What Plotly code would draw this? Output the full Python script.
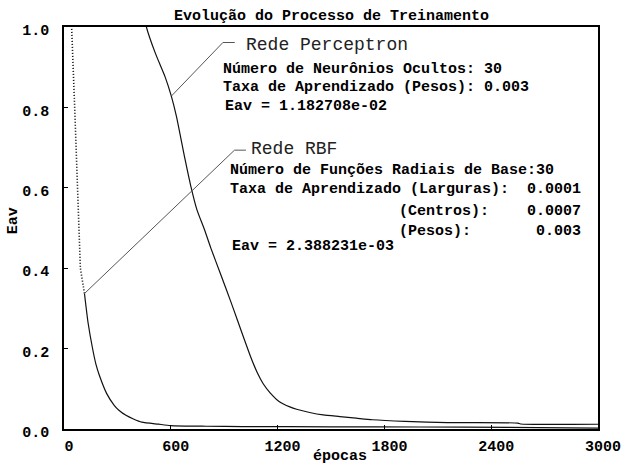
import numpy as np
import plotly.graph_objects as go

# Curva de treinamento da rede Perceptron (épocas, Eav)
perceptron_epocas = [450, 463, 513, 568, 603, 631, 679, 712, 747, 790, 825, 880, 936,
                     975, 1012, 1050, 1086, 1120, 1158, 1210, 1269, 1307, 1380, 1456,
                     1550, 1641, 1732, 1917, 2155, 2550, 2565, 3000]
perceptron_eav = [1.03, 1.0, 0.935, 0.876, 0.828, 0.779, 0.673, 0.605, 0.545, 0.495,
                  0.45, 0.385, 0.318, 0.27, 0.224, 0.178, 0.14, 0.112, 0.09, 0.068,
                  0.055, 0.049, 0.041, 0.035, 0.031, 0.027, 0.023, 0.019, 0.016,
                  0.0147, 0.0125, 0.01182708]

# Curva de treinamento da rede RBF: trecho inicial (pontilhado) e restante
rbf_inicio_epocas = [38, 43, 60, 78, 92, 115]
rbf_inicio_eav = [1.04, 1.0, 0.8, 0.6, 0.4, 0.337]
rbf_epocas = [115, 135, 161, 180, 199, 240, 282, 310, 348, 390, 437, 531, 600, 800,
              1000, 1500, 2000, 2500, 3000]
rbf_eav = [0.337, 0.265, 0.199, 0.16, 0.133, 0.088, 0.059, 0.046, 0.034, 0.025, 0.017,
           0.012, 0.0085, 0.0068, 0.006, 0.0055, 0.005, 0.0042, 0.002388231]

x_ticks = [0, 600, 1200, 1800, 2400, 3000]
y_ticks = [0.0, 0.2, 0.4, 0.6, 0.8, 1.0]

# Pontos das curvas indicados pelas linhas de chamada
perc_ref_epoca = 603
rbf_ref_epoca = 115

W, H = 633, 468
ML, MR, MT, MB = 64, 28, 27, 34
PW, PH = W - ML - MR, H - MT - MB

def px_x(p):
    return (p - ML) / PW

def px_y(p):
    return (H - MB - p) / PH

def ep_from_px(p):
    return px_x(p) * 3000

def val_from_px(p):
    return px_y(p)

MONO = "Liberation Mono"
bold = dict(family=MONO, size=15, color="black", weight="bold")
fina = dict(family=MONO, size=18, color="#222222")
cor_curva = "#111111"
cor_chamada = "#555555"

fig = go.Figure()

fig.add_trace(go.Scatter(x=rbf_inicio_epocas, y=rbf_inicio_eav, mode="lines",
                         line=dict(color="black", width=1.6, dash="1px,2px"),
                         hoverinfo="skip"))
fig.add_trace(go.Scatter(x=rbf_epocas, y=rbf_eav, mode="lines",
                         line=dict(color=cor_curva, width=1.2, shape="spline",
                                   smoothing=0.6),
                         hoverinfo="skip"))
fig.add_trace(go.Scatter(x=perceptron_epocas, y=perceptron_eav, mode="lines",
                         line=dict(color=cor_curva, width=1.2, shape="spline",
                                   smoothing=0.6),
                         hoverinfo="skip"))

# Linhas de chamada
perc_ref_val = float(np.interp(perc_ref_epoca, perceptron_epocas, perceptron_eav))
rbf_ref_val = float(np.interp(rbf_ref_epoca, rbf_epocas, rbf_eav))
fig.add_trace(go.Scatter(
    x=[perc_ref_epoca, ep_from_px(225), ep_from_px(237)],
    y=[perc_ref_val, val_from_px(42.7), val_from_px(42.7)],
    mode="lines", line=dict(color=cor_chamada, width=1), hoverinfo="skip"))
fig.add_trace(go.Scatter(
    x=[rbf_ref_epoca, ep_from_px(236.7), ep_from_px(248.3)],
    y=[rbf_ref_val, val_from_px(151.7), val_from_px(151.7)],
    mode="lines", line=dict(color=cor_chamada, width=1), hoverinfo="skip"))

textos = [
    ("Rede Perceptron", 246.7, 45, "left", fina),
    ("Número de Neurônios Ocultos: 30", 223, 70, "left", bold),
    ("Taxa de Aprendizado (Pesos): 0.003", 223, 88.3, "left", bold),
    (f"Eav = {perceptron_eav[-1]:.6e}", 225, 107.3, "left", bold),
    ("Rede RBF", 251.7, 150.7, "left", fina),
    ("Número de Funções Radiais de Base:30", 230, 172.7, "left", bold),
    ("Taxa de Aprendizado (Larguras):", 230, 191.7, "left", bold),
    ("0.0001", 590, 191.7, "right", bold),
    ("(Centros):", 401.7, 213.3, "left", bold),
    ("0.0007", 590, 213.3, "right", bold),
    ("(Pesos):", 401.7, 234, "left", bold),
    ("0.003", 590, 234, "right", bold),
    (f"Eav = {rbf_eav[-1]:.6e}", 231.7, 249, "left", bold),
]
for txt, xp, yp, anc, fnt in textos:
    fig.add_annotation(text=txt, xref="paper", yref="paper", x=px_x(xp), y=px_y(yp),
                       xanchor=anc, yanchor="middle", showarrow=False, font=fnt)

# Título e rótulos dos eixos
fig.add_annotation(text="Evolução do Processo de Treinamento", xref="paper", yref="paper",
                   x=0.5, y=px_y(16.5), xanchor="center", yanchor="middle",
                   showarrow=False, font=bold)
fig.add_annotation(text="épocas", xref="paper", yref="paper", x=px_x(344), y=px_y(462),
                   xanchor="center", yanchor="middle", showarrow=False, font=bold)
fig.add_annotation(text="Eav", xref="paper", yref="paper", x=px_x(13), y=px_y(223),
                   xanchor="center", yanchor="middle", textangle=-90,
                   showarrow=False, font=bold)

eixo = dict(showline=True, linecolor="black", linewidth=1.5, mirror=True,
            showgrid=False, zeroline=False, ticks="inside", ticklen=4,
            tickcolor="black", tickfont=bold)
fig.update_layout(
    width=W, height=H,
    margin=dict(l=ML, r=MR, t=MT, b=MB),
    paper_bgcolor="white", plot_bgcolor="white",
    showlegend=False,
    xaxis=dict(range=[0, 3000], tickvals=x_ticks, ticktext=[str(v) for v in x_ticks],
               ticklabelshift=5, ticklabelstandoff=2, **eixo),
    yaxis=dict(range=[0, 1], tickvals=y_ticks, ticktext=[f"{v:.1f}" for v in y_ticks],
               ticklabelshift=3, ticklabelstandoff=10, **eixo),
)

fig.write_html("out.html")
